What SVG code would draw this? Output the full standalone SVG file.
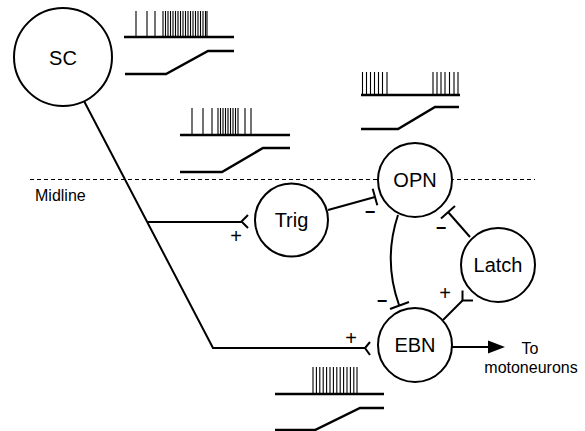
<svg xmlns="http://www.w3.org/2000/svg" width="585" height="431" viewBox="0 0 585 431">
  <style>
    .node circle { fill: #fff; stroke: #000; stroke-width: 2; }
    .lbl { font-family: "Liberation Sans", Arial, sans-serif; font-size: 20px; text-anchor: middle; fill: #000; }
    .txt { font-family: "Liberation Sans", Arial, sans-serif; font-size: 16px; fill: #000; }
    .sign { font-family: "Liberation Sans", Arial, sans-serif; font-size: 18px; text-anchor: middle; fill: #000; }
    .plus { font-size: 20px; }
    .minus { font-weight: bold; }
    .conn { fill: none; stroke: #000; stroke-width: 2; stroke-linecap: butt; }
    .trace { fill: none; stroke: #000; stroke-width: 2.5; }
    .spk { fill: none; stroke: #000; stroke-width: 1.1; }
    .mid { stroke: #000; stroke-width: 1; stroke-dasharray: 4 3; }
  </style>
  <rect width="585" height="431" fill="#fff"/>

  <!-- Midline -->
  <g id="midline">
    <line class="mid" x1="30" y1="179.5" x2="535" y2="179.5"/>
    <text class="txt" x="35" y="201">Midline</text>
  </g>

  <!-- spike trains and position traces -->
  <g id="traces">
    <!-- SC -->
    <path class="spk" d="M136,11V37M147,11V37M155,11V37M163,11V37M165.5,11V37M168,11V37M170.5,11V37M173,11V37M175.5,11V37M178,11V37M180.5,11V37M183,11V37M185.5,11V37M188,11V37M190.5,11V37M193,11V37M195.5,11V37M198,11V37M200.5,11V37M203,11V37M205.5,11V37M207,11V37"/>
    <path class="trace" d="M124,37H234"/>
    <path class="trace" d="M125,74H166L208,51H234"/>
    <!-- Trig -->
    <path class="spk" d="M192,108V135M203,108V135M212,108V135M218,108V135M220.5,108V135M223,108V135M225.5,108V135M228,108V135M230.5,108V135M233,108V135M235.5,108V135M238,108V135M245,108V135M251,108V135"/>
    <path class="trace" d="M180,135H290"/>
    <path class="trace" d="M180,172H222L263,148H290"/>
    <!-- OPN -->
    <path class="spk" d="M362.5,72V95M366.5,72V95M370.5,72V95M374.5,72V95M378.5,72V95M382.5,72V95M387,72V95M433,72V95M437,72V95M441,72V95M445,72V95M449.5,72V95M454,72V95M458,72V95"/>
    <path class="trace" d="M361,95H460"/>
    <path class="trace" d="M361,129H398L435,107H459"/>
    <!-- EBN -->
    <path class="spk" d="M313,367V394M316.4,367V394M319.8,367V394M323.2,367V394M326.6,367V394M330,367V394M333.4,367V394M336.8,367V394M340.2,367V394M343.6,367V394M347,367V394M350.4,367V394M353.8,367V394M357,367V394"/>
    <path class="trace" d="M275,394H384"/>
    <path class="trace" d="M275,430H315L360,408H384"/>
  </g>

  <!-- connectors -->
  <g id="connectors">
    <!-- SC to EBN with branch to Trig -->
    <path class="conn" d="M84,101L213,348H365"/>
    <path class="conn" d="M370,342L365,348L370,355"/>
    <path class="conn" d="M147,222H241.5"/>
    <path class="conn" d="M248,215L241.5,221.5L248,228"/>
    <!-- Trig to OPN (inhibitory) -->
    <path class="conn" d="M328,210L375,197"/>
    <path class="conn" d="M372.7,188.8L377.3,205.2"/>
    <!-- Latch to OPN (inhibitory) -->
    <path class="conn" d="M470,237L448,212"/>
    <path class="conn" d="M441,218.5L455,206"/>
    <!-- OPN to EBN (inhibitory) -->
    <path class="conn" d="M398,215Q383,260 399,305"/>
    <path class="conn" d="M390,309L409,302"/>
    <!-- EBN to Latch (excitatory) -->
    <path class="conn" d="M443,320L462.5,300.5"/>
    <path class="conn" d="M462.5,290.5V300.5H473"/>
    <!-- EBN output -->
    <path class="conn" d="M452,347H490"/>
    <polygon points="488,340.5 505,347 488,353.5" fill="#000"/>
  </g>

  <!-- signs -->
  <g id="signs">
    <text class="sign plus" x="236" y="243">+</text>
    <text class="sign plus" x="351" y="345">+</text>
    <text class="sign plus" x="445" y="300">+</text>
    <text class="sign minus" x="370" y="218">−</text>
    <text class="sign minus" x="441" y="234">−</text>
    <text class="sign minus" x="382" y="307">−</text>
  </g>

  <!-- nodes -->
  <g id="SC" class="node">
    <circle cx="63" cy="57" r="49"/>
    <text class="lbl" x="63" y="64.5">SC</text>
  </g>
  <g id="Trig" class="node">
    <circle cx="291.5" cy="220" r="36.5"/>
    <text class="lbl" x="291.5" y="227">Trig</text>
  </g>
  <g id="OPN" class="node">
    <circle cx="415" cy="180" r="37"/>
    <text class="lbl" x="415" y="187">OPN</text>
  </g>
  <g id="Latch" class="node">
    <circle cx="498" cy="265" r="37"/>
    <text class="lbl" x="498" y="272">Latch</text>
  </g>
  <g id="EBN" class="node">
    <circle cx="415" cy="345" r="37"/>
    <text class="lbl" x="415" y="352">EBN</text>
  </g>

  <g id="output-label">
    <text class="txt" x="530" y="353.5" text-anchor="middle">To</text>
    <text class="txt" x="531" y="373" text-anchor="middle">motoneurons</text>
  </g>
</svg>
